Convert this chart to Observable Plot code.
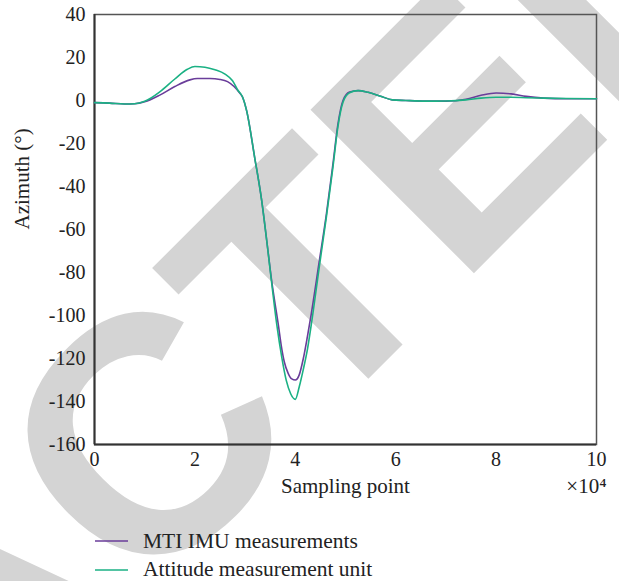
<!DOCTYPE html>
<html>
<head>
<meta charset="utf-8">
<script src="https://cdn.jsdelivr.net/npm/d3@7"></script>
<script src="https://cdn.jsdelivr.net/npm/@observablehq/plot@0.6"></script>
<style>
  html, body { margin: 0; padding: 0; background: #fff; }
  #page { position: relative; width: 619px; height: 581px; overflow: hidden; font-family: "Liberation Serif", "Times New Roman", serif; }
  #stamp { position: absolute; left: 0; top: 0; z-index: 0; }
  #chart { position: absolute; left: 0; top: 0; z-index: 1; }
  #chart svg, #chart svg text { font-family: "Liberation Serif", "Times New Roman", serif !important; }
  #legend { position: absolute; left: 95px; top: 527px; z-index: 1; font-size: 21.5px; color: #222; }
  .item { display: flex; align-items: center; height: 28.5px; }
  .item svg { margin-right: 15px; }
</style>
</head>
<body>
<div id="page">
  <svg id="stamp" width="619" height="581"></svg>
  <div id="chart"></div>
  <div id="legend"></div>
</div>
<script>
// MTI IMU: sampling point (x 10^4) and azimuth (degrees)
const mtiX = [0, 0.3, 0.6, 0.8, 1.0, 1.3, 1.6, 1.9, 2.05, 2.3, 2.5, 2.65, 2.78, 2.88, 2.95,
  3.03, 3.19, 3.33, 3.43, 3.53, 3.6, 3.66, 3.72, 3.78, 3.86, 3.93, 4.0, 4.08, 4.16, 4.24, 4.32,
  4.48, 4.62, 4.75, 4.85, 4.95, 5.08, 5.25, 5.45, 5.7, 5.93, 6.2, 6.6, 7.0, 7.4, 7.7, 8.0, 8.3, 8.6, 8.95, 9.4, 10];
const mtiY = [-1.0, -1.2, -1.6, -1.5, -0.6, 2.5, 6.5, 9.6, 10.2, 10.2, 9.8, 8.8, 6.5, 3.8, 1.5,
  -4.7, -26.4, -46.5, -65, -84, -95, -104, -114, -121.5, -127, -129.5, -130, -127.5, -120, -110, -99,
  -74.4, -52.7, -29.5, -10.9, 0, 3.9, 4.6, 3.8, 2.0, 0.3, 0.0, -0.3, -0.3, 0.6, 2.4, 3.5, 3.1, 1.9, 1.1, 0.8, 0.8];

// Attitude measurement unit: sampling point (x 10^4) and azimuth (degrees)
const attX = [0, 0.3, 0.6, 0.8, 1.0, 1.3, 1.6, 1.85, 2.0, 2.2, 2.4, 2.6, 2.75, 2.85, 2.95,
  3.03, 3.19, 3.33, 3.43, 3.53, 3.63, 3.73, 3.82, 3.91, 4.0, 4.08, 4.16, 4.24, 4.32,
  4.48, 4.62, 4.75, 4.85, 4.95, 5.08, 5.25, 5.45, 5.7, 5.93, 6.2, 6.6, 7.0, 7.4, 7.7, 8.0, 8.3, 8.6, 8.95, 9.4, 10];
const attY = [-1.0, -1.2, -1.6, -1.5, -0.4, 4.0, 10.0, 14.5, 15.8, 15.5, 14.3, 12.3, 9.2, 5.0, 1.6,
  -4.7, -26.4, -46.5, -65, -85, -104, -119.4, -130.2, -136.5, -139, -133, -125, -116, -104,
  -77, -54, -31, -12, -0.8, 3.6, 4.6, 3.8, 2.0, 0.3, 0.0, -0.3, -0.2, 0.3, 1.1, 1.5, 1.5, 1.3, 1.1, 0.9, 0.8];

const seriesNames = ["MTI IMU measurements", "Attitude measurement unit"];
const seriesColors = ["#6a3d9a", "#1bb184"];

const yTicks = [40, 20, 0, -20, -40, -60, -80, -100, -120, -140, -160];
const xTicks = [0, 2, 4, 6, 8, 10];

const rows = [
  ...mtiX.map((x, i) => ({x, y: mtiY[i], series: seriesNames[0]})),
  ...attX.map((x, i) => ({x, y: attY[i], series: seriesNames[1]}))
];

const serif = "Liberation Serif, Times New Roman, serif";

const chart = Plot.plot({
  width: 619,
  height: 505,
  marginLeft: 94,
  marginRight: 23,
  marginTop: 14,
  marginBottom: 61,
  style: {background: "none", fontFamily: serif, fontSize: "20px", color: "#222"},
  x: {domain: [0, 10]},
  y: {domain: [-160, 40]},
  color: {domain: seriesNames, range: seriesColors},
  marks: [
    Plot.frame({stroke: "#555", strokeWidth: 1.5}),
    Plot.ruleX([0], {stroke: "#333", strokeWidth: 2}),
    Plot.ruleY([-160], {stroke: "#333", strokeWidth: 2}),
    Plot.axisY(yTicks, {tickSize: 0, tickPadding: 9, tickFormat: d => String(d), label: null, fontSize: 20, fontFamily: serif}),
    Plot.axisX(xTicks, {tickSize: 0, tickPadding: 7, tickFormat: d => String(d), label: null, fontSize: 20, fontFamily: serif}),
    Plot.line(rows, {x: "x", y: "y", stroke: "series", z: "series", strokeWidth: 1.6, curve: "monotone-x"}),
    Plot.text(["Azimuth (°)"], {frameAnchor: "left", rotate: -90, dx: -72, fontSize: 21, fontFamily: serif}),
    Plot.text(["Sampling point"], {frameAnchor: "bottom", dy: 48, fontSize: 21, fontFamily: serif}),
    Plot.text(["×10⁴"], {frameAnchor: "bottom-right", textAnchor: "end", dx: 10, dy: 48, fontSize: 21, fontFamily: serif})
  ]
});
document.getElementById("chart").appendChild(chart);

// Legend below the chart
const legend = d3.select("#legend");
seriesNames.forEach((name, i) => {
  const item = legend.append("div").attr("class", "item");
  item.append("svg").attr("width", 33).attr("height", 4)
    .append("line").attr("x1", 0).attr("x2", 33).attr("y1", 2).attr("y2", 2)
    .attr("stroke", seriesColors[i]).attr("stroke-width", 1.6);
  item.append("span").text(name);
});

// Retraction stamp behind the figure
d3.select("#stamp").append("text")
  .attr("transform", "translate(-30,606) rotate(-45)")
  .attr("text-anchor", "middle")
  .attr("dy", "0.36em")
  .attr("font-family", "Liberation Sans, Arial, sans-serif")
  .attr("font-weight", "bold")
  .attr("font-size", 336)
  .attr("fill", "#d4d4d4")
  .text("RETRACTED");
</script>
</body>
</html>
